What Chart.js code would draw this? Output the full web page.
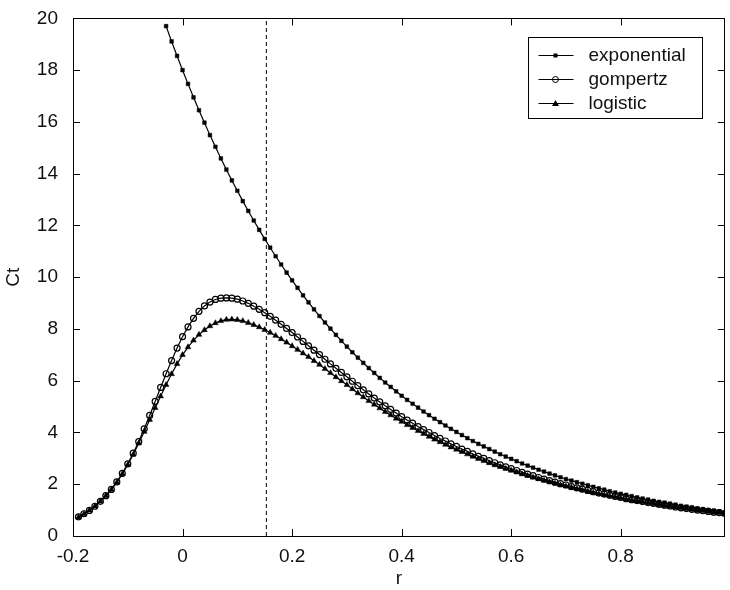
<!DOCTYPE html>
<html>
<head>
<meta charset="utf-8">
<script src="https://cdn.jsdelivr.net/npm/chart.js@4"></script>
<style>
    body { margin: 0; background: #fff; }
    #wrap { width: 730px; height: 590px; }
</style>
</head>
<body>
<div id="wrap"><canvas id="myChart" width="730" height="590"></canvas></div>
<script>
// r grid (step 0.01)
const rValues = [
    -0.19, -0.18, -0.17, -0.16, -0.15, -0.14, -0.13, -0.12, -0.11, -0.10,
    -0.09, -0.08, -0.07, -0.06, -0.05, -0.04, -0.03, -0.02, -0.01, 0.00,
    0.01, 0.02, 0.03, 0.04, 0.05, 0.06, 0.07, 0.08, 0.09, 0.10,
    0.11, 0.12, 0.13, 0.14, 0.15, 0.16, 0.17, 0.18, 0.19, 0.20,
    0.21, 0.22, 0.23, 0.24, 0.25, 0.26, 0.27, 0.28, 0.29, 0.30,
    0.31, 0.32, 0.33, 0.34, 0.35, 0.36, 0.37, 0.38, 0.39, 0.40,
    0.41, 0.42, 0.43, 0.44, 0.45, 0.46, 0.47, 0.48, 0.49, 0.50,
    0.51, 0.52, 0.53, 0.54, 0.55, 0.56, 0.57, 0.58, 0.59, 0.60,
    0.61, 0.62, 0.63, 0.64, 0.65, 0.66, 0.67, 0.68, 0.69, 0.70,
    0.71, 0.72, 0.73, 0.74, 0.75, 0.76, 0.77, 0.78, 0.79, 0.80,
    0.81, 0.82, 0.83, 0.84, 0.85, 0.86, 0.87, 0.88, 0.89, 0.90,
    0.91, 0.92, 0.93, 0.94, 0.95, 0.96, 0.97, 0.98, 0.99
];

// exponential only shows from r = -0.03 (above 20 before that)
const exponential = [
    19.70, 19.11, 18.55, 18.00, 17.47, 16.95, 16.45, 15.97, 15.49, 15.04,
    14.59, 14.16, 13.74, 13.34, 12.94, 12.56, 12.19, 11.83, 11.48, 11.14,
    10.81, 10.49, 10.18, 9.88, 9.59, 9.30, 9.03, 8.76, 8.50, 8.25,
    8.01, 7.77, 7.54, 7.32, 7.10, 6.89, 6.69, 6.49, 6.30, 6.11,
    5.93, 5.76, 5.59, 5.42, 5.26, 5.11, 4.96, 4.81, 4.67, 4.53,
    4.40, 4.27, 4.14, 4.02, 3.90, 3.78, 3.67, 3.56, 3.46, 3.36,
    3.26, 3.16, 3.07, 2.98, 2.89, 2.80, 2.72, 2.64, 2.56, 2.49,
    2.41, 2.34, 2.27, 2.20, 2.14, 2.08, 2.02, 1.96, 1.90, 1.84,
    1.79, 1.73, 1.68, 1.63, 1.59, 1.54, 1.49, 1.45, 1.41, 1.36,
    1.32, 1.29, 1.25, 1.21, 1.17, 1.14, 1.11, 1.07, 1.04, 1.01,
    0.98, 0.95, 0.92
];

const gompertz = [
    0.74, 0.86, 0.99, 1.15, 1.34, 1.56, 1.80, 2.09, 2.42, 2.79,
    3.20, 3.65, 4.14, 4.66, 5.20, 5.74, 6.27, 6.78, 7.26, 7.70,
    8.08, 8.41, 8.68, 8.89, 9.04, 9.14, 9.19, 9.20, 9.19, 9.15,
    9.08, 8.99, 8.88, 8.76, 8.63, 8.49, 8.34, 8.18, 8.02, 7.86,
    7.69, 7.52, 7.35, 7.18, 7.01, 6.83, 6.65, 6.48, 6.32, 6.15,
    5.98, 5.81, 5.65, 5.49, 5.33, 5.18, 5.03, 4.89, 4.75, 4.61,
    4.48, 4.36, 4.23, 4.11, 4.00, 3.88, 3.77, 3.67, 3.56, 3.46,
    3.36, 3.27, 3.17, 3.08, 3.00, 2.91, 2.83, 2.75, 2.67, 2.60,
    2.53, 2.46, 2.39, 2.33, 2.26, 2.20, 2.14, 2.08, 2.02, 1.97,
    1.91, 1.86, 1.81, 1.76, 1.71, 1.66, 1.62, 1.57, 1.53, 1.49,
    1.44, 1.40, 1.37, 1.33, 1.29, 1.26, 1.22, 1.19, 1.16, 1.12,
    1.09, 1.06, 1.03, 1.00, 0.98, 0.95, 0.92, 0.90, 0.87
];

const logistic = [
    0.72, 0.85, 0.99, 1.15, 1.34, 1.55, 1.79, 2.07, 2.39, 2.75,
    3.15, 3.58, 4.03, 4.49, 4.95, 5.40, 5.84, 6.26, 6.65, 7.00,
    7.30, 7.56, 7.78, 7.96, 8.11, 8.23, 8.31, 8.36, 8.37, 8.35,
    8.31, 8.24, 8.16, 8.07, 7.97, 7.86, 7.74, 7.61, 7.48, 7.34,
    7.20, 7.06, 6.92, 6.77, 6.62, 6.46, 6.30, 6.14, 5.99, 5.84,
    5.68, 5.52, 5.37, 5.22, 5.08, 4.94, 4.80, 4.67, 4.54, 4.42,
    4.29, 4.18, 4.06, 3.95, 3.84, 3.73, 3.63, 3.53, 3.43, 3.34,
    3.25, 3.16, 3.07, 2.98, 2.90, 2.82, 2.74, 2.67, 2.60, 2.53,
    2.46, 2.39, 2.33, 2.26, 2.20, 2.14, 2.08, 2.03, 1.97, 1.92,
    1.87, 1.82, 1.77, 1.72, 1.67, 1.63, 1.58, 1.54, 1.50, 1.46,
    1.42, 1.38, 1.34, 1.31, 1.27, 1.24, 1.20, 1.17, 1.14, 1.11,
    1.08, 1.05, 1.02, 0.99, 0.97, 0.94, 0.91, 0.89, 0.86
];

const cutoffR = 0.153;
const xTicks = [-0.2, 0, 0.2, 0.4, 0.6, 0.8];
const yTicks = [0, 2, 4, 6, 8, 10, 12, 14, 16, 18, 20];
const seriesNames = ["exponential", "gompertz", "logistic"];

// pair an r list with a value list (values line up with the END of rValues)
const toPoints = function (ys) {
    const rs = rValues.slice(rValues.length - ys.length);
    return ys.map((y, i) => ({ x: rs[i], y: y }));
};

const FONT = "'Liberation Sans', Arial, sans-serif";
const INK = "#111";

// draw a marker in the same shape as the series uses
const drawMarker = function (ctx, style, x, y) {
    ctx.beginPath();
    if (style === "rect") {
        ctx.rect(x - 2, y - 2, 4, 4);
        ctx.fill();
    } else if (style === "circle") {
        ctx.arc(x, y, 3, 0, Math.PI * 2);
        ctx.stroke();
    } else {
        ctx.moveTo(x, y - 3.5);
        ctx.lineTo(x + 3.5, y + 2.5);
        ctx.lineTo(x - 3.5, y + 2.5);
        ctx.closePath();
        ctx.fill();
    }
};

// box, inward ticks on all four sides, and the legend
const framePlugin = {
    id: "frame",
    afterDraw(chart) {
        const { ctx, chartArea: a, scales } = chart;
        const tick = 7;
        ctx.save();
        ctx.strokeStyle = "#000";
        ctx.lineWidth = 1;
        ctx.beginPath();
        ctx.rect(Math.round(a.left) + 0.5, Math.round(a.top) + 0.5,
            Math.round(a.right - a.left) - 1, Math.round(a.bottom - a.top));
        xTicks.forEach(v => {
            const px = Math.round(scales.x.getPixelForValue(v)) + 0.5;
            ctx.moveTo(px, a.bottom);
            ctx.lineTo(px, a.bottom - tick);
            ctx.moveTo(px, a.top);
            ctx.lineTo(px, a.top + tick);
        });
        yTicks.forEach(v => {
            const py = Math.round(scales.y.getPixelForValue(v)) + 0.5;
            ctx.moveTo(a.left, py);
            ctx.lineTo(a.left + tick, py);
            ctx.moveTo(a.right, py);
            ctx.lineTo(a.right - tick, py);
        });
        ctx.stroke();

        // legend
        const lx = Math.round(a.right - 197) + 0.5;
        const ly = Math.round(a.top + 19) + 0.5;
        ctx.fillStyle = "#fff";
        ctx.fillRect(lx, ly, 174, 81);
        ctx.strokeRect(lx, ly, 174, 81);
        ctx.font = "19px " + FONT;
        ctx.textBaseline = "middle";
        const styles = ["rect", "circle", "triangle"];
        seriesNames.forEach((name, i) => {
            const ry = Math.round(ly + 17 + i * 24) + 0.5;
            ctx.strokeStyle = "#000";
            ctx.fillStyle = "#000";
            ctx.beginPath();
            ctx.moveTo(lx + 10, ry);
            ctx.lineTo(lx + 45, ry);
            ctx.stroke();
            drawMarker(ctx, styles[i], lx + 27, ry);
            ctx.fillStyle = INK;
            ctx.fillText(name, lx + 60, ry);
        });
        ctx.restore();
    },
};

const ctx = document.getElementById("myChart");

new Chart(ctx, {
    type: "line",
    data: {
        datasets: [
            {
                label: seriesNames[0],
                data: toPoints(exponential),
                borderColor: "#000",
                backgroundColor: "#000",
                borderWidth: 1.2,
                pointStyle: "rect",
                pointRadius: 2.6,
                pointBorderWidth: 0.5,
            },
            {
                label: seriesNames[1],
                data: toPoints(gompertz),
                borderColor: "#000",
                backgroundColor: "rgba(0,0,0,0)",
                borderWidth: 1.2,
                pointStyle: "circle",
                pointRadius: 3,
                pointBorderWidth: 1.2,
            },
            {
                label: seriesNames[2],
                data: toPoints(logistic),
                borderColor: "#000",
                backgroundColor: "#000",
                borderWidth: 1.2,
                pointStyle: "triangle",
                pointRadius: 3.3,
                pointBorderWidth: 0.5,
            },
            {
                label: "cutoff",
                data: [{ x: cutoffR, y: 0 }, { x: cutoffR, y: 20 }],
                borderColor: "#000",
                borderWidth: 1,
                borderDash: [4, 3],
                pointRadius: 0,
            },
        ],
    },
    options: {
        responsive: false,
        animation: false,
        layout: { padding: { top: 15, right: 1, left: 0, bottom: 0 } },
        plugins: {
            legend: { display: false },
            tooltip: { enabled: false },
        },
        scales: {
            x: {
                type: "linear",
                min: -0.2,
                max: 0.99,
                afterBuildTicks: s => { s.ticks = xTicks.map(v => ({ value: v })); },
                afterFit: s => { s.height = 54; },
                grid: { display: false },
                border: { display: false },
                ticks: {
                    color: INK,
                    padding: 1,
                    maxRotation: 0,
                    font: { family: FONT, size: 19 },
                    callback: v => String(Math.round(v * 10) / 10),
                },
                title: {
                    display: true,
                    text: "r",
                    color: INK,
                    padding: { top: 0, bottom: 0 },
                    font: { family: FONT, size: 19 },
                },
            },
            y: {
                min: 0,
                max: 20,
                afterBuildTicks: s => { s.ticks = yTicks.map(v => ({ value: v })); },
                afterFit: s => { s.width = 73; },
                grid: { display: false },
                border: { display: false },
                ticks: {
                    color: INK,
                    padding: 7,
                    font: { family: FONT, size: 19 },
                },
                title: {
                    display: true,
                    text: "Ct",
                    color: INK,
                    padding: { top: 2, bottom: 0 },
                    font: { family: FONT, size: 19 },
                },
            },
        },
    },
    plugins: [framePlugin],
});
</script>
</body>
</html>
